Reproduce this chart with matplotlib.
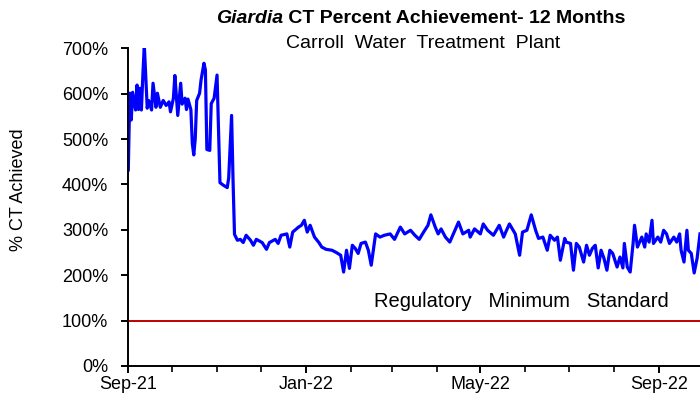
import datetime as dt
import matplotlib
matplotlib.use('Agg')
import matplotlib.pyplot as plt
import matplotlib.dates as mdates
from matplotlib.ticker import FuncFormatter

# Data: days since 1 Sep 2021 and % CT achieved
start = dt.date(2021, 9, 1)
day_offsets = [
    0, 1, 2, 3, 5, 6, 7, 8, 9, 10, 11, 13, 14, 16, 17, 19, 20, 22, 24, 26,
    28, 29, 31, 32, 34, 36, 37, 39, 40, 41, 43, 44, 45, 46, 47, 49, 50, 52, 53, 54,
    56, 57, 59, 61, 62, 63, 65, 68, 69, 71, 72, 73, 75, 77, 79, 81, 84, 86, 88, 92,
    95, 97, 101, 103, 105, 109, 111, 113, 117, 119, 121, 123, 125, 128, 131, 133, 136, 140, 143, 146,
    148, 150, 152, 154, 156, 158, 160, 163, 165, 167, 170, 173, 176, 180, 183, 187, 190, 194, 197, 200,
    203, 206, 208, 211, 213, 215, 218, 221, 224, 227, 230, 234, 235, 238, 242, 244, 247, 251, 253, 255,
    258, 260, 262, 266, 269, 271, 274, 277, 280, 282, 285, 288, 290, 293, 295, 297, 300, 301, 304, 306,
    308, 310, 313, 315, 317, 319, 321, 323, 325, 327, 329, 331, 333, 336, 338, 340, 341, 343, 345, 347,
    348, 350, 353, 355, 356, 358, 360, 361, 364, 366, 368, 370, 372, 375, 377, 379, 380, 382, 384, 385,
    387, 389, 391, 393,
]
ct_percent = [
    432, 601, 542, 603, 564, 619, 565, 612, 564, 641, 707, 568, 585, 564, 623, 570, 601, 570, 585, 574,
    582, 560, 590, 640, 552, 623, 577, 590, 565, 588, 565, 490, 465, 500, 585, 601, 630, 667, 652, 477,
    475, 578, 590, 641, 520, 404, 399, 393, 414, 552, 409, 290, 277, 279, 272, 288, 277, 266, 279, 272,
    257, 272, 279, 270, 288, 291, 262, 295, 306, 310, 321, 295, 310, 284, 272, 262, 257, 255, 250, 244,
    207, 255, 215, 266, 259, 248, 270, 273, 255, 222, 291, 284, 288, 291, 279, 306, 291, 299, 288, 279,
    295, 310, 333, 306, 291, 302, 284, 273, 295, 317, 291, 299, 284, 302, 291, 313, 299, 288, 299, 310,
    284, 299, 313, 291, 244, 295, 299, 333, 299, 281, 284, 255, 288, 277, 284, 233, 281, 273, 270, 211,
    270, 262, 229, 266, 244, 259, 266, 216, 255, 237, 211, 255, 248, 218, 240, 216, 270, 218, 207, 270,
    310, 262, 284, 262, 291, 273, 321, 270, 284, 273, 299, 291, 270, 284, 273, 291, 255, 229, 299, 255,
    248, 205, 237, 291,
]
reg_minimum = 100
y_ticks = [0, 100, 200, 300, 400, 500, 600, 700]

dates = [start + dt.timedelta(days=d) for d in day_offsets]

plt.rcParams['font.family'] = ['Liberation Sans', 'DejaVu Sans']

fig = plt.figure(figsize=(7, 4.04), dpi=100)
ax = fig.add_axes([0.1833, 0.0941, 0.8167, 0.7864])

# CT line and regulatory minimum
ax.plot(dates, ct_percent, color='#0000FF', lw=2.3, solid_joinstyle='round')
ax.axhline(reg_minimum, color='#C00000', lw=1.4)
ax.text(start + dt.timedelta(days=270), 141, 'Regulatory   Minimum   Standard',
        ha='center', va='center', fontsize=14.5)

# Axes
ax.set_ylim(0, 700)
ax.set_yticks(y_ticks)
ax.yaxis.set_major_formatter(FuncFormatter(lambda v, p: f'{int(v)}%'))
ax.set_xlim(start, start + dt.timedelta(days=393))
ax.xaxis.set_major_locator(mdates.MonthLocator(bymonth=[1, 5, 9]))
ax.xaxis.set_minor_locator(mdates.MonthLocator())
ax.xaxis.set_major_formatter(mdates.DateFormatter('%b-%y'))

for side in ['top', 'right']:
    ax.spines[side].set_visible(False)
for side in ['left', 'bottom']:
    ax.spines[side].set_linewidth(1.4)

ax.tick_params(axis='y', which='major', length=5, width=1.4, pad=9.5, labelsize=13)
ax.tick_params(axis='x', which='major', length=5, width=1.4, pad=2, labelsize=13)
ax.tick_params(axis='x', which='minor', length=4, width=1.2)

fig.text(19 / 700, 1 - 190 / 404, '% CT Achieved', rotation=90, ha='center', va='center', fontsize=13)

# Title: italic bold Giardia + bold rest, centred as a whole
t1 = fig.text(0.3, 1 - 23.3 / 404, 'Giardia', fontsize=14, fontweight='bold',
              style='italic', va='baseline', ha='left')
t2 = ax.annotate(' CT Percent Achievement- 12 Months', xy=(1, 0), xycoords=t1,
                 fontsize=14, fontweight='bold', va='bottom', ha='left', annotation_clip=False)
fig.canvas.draw()
r = fig.canvas.get_renderer()
w = t1.get_window_extent(r).width + t2.get_window_extent(r).width
t1.set_x((421 - w / 2) / 700)

fig.text(423.5 / 700, 1 - 48.3 / 404, 'Carroll  Water  Treatment  Plant', fontsize=14,
         ha='center', va='baseline')

fig.savefig('out.png', dpi=100)
